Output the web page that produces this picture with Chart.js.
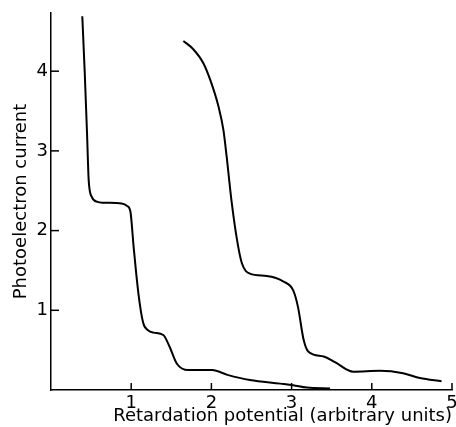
<!DOCTYPE html>
<html>
<head>
<meta charset="utf-8">
<script src="https://cdn.jsdelivr.net/npm/chart.js@4"></script>
<style>
  html, body { margin: 0; padding: 0; background: #fff; }
  canvas { display: block; }
</style>
</head>
<body>
<canvas id="myChart" width="456" height="427"></canvas>
<script>
// curva de la izquierda
const curva1X = [0.39, 0.42, 0.45, 0.47, 0.51, 0.58, 0.65, 0.88, 0.95, 0.99, 1.03, 1.09, 1.15, 1.21, 1.28, 1.40, 1.48, 1.57, 1.71, 2.01, 2.20, 2.48, 2.86, 3.02, 3.19, 3.48]
const curva1Y = [4.69, 4.00, 3.20, 2.63, 2.42, 2.36, 2.35, 2.34, 2.31, 2.24, 1.80, 1.21, 0.84, 0.75, 0.72, 0.69, 0.54, 0.33, 0.25, 0.25, 0.19, 0.125, 0.08, 0.06, 0.03, 0.02]

// curva de la derecha
const curva2X = [1.65, 1.77, 1.90, 2.00, 2.09, 2.15, 2.19, 2.25, 2.32, 2.38, 2.48, 2.69, 2.90, 3.02, 3.08, 3.15, 3.21, 3.40, 3.54, 3.77, 4.10, 4.39, 4.60, 4.87]
const curva2Y = [4.38, 4.28, 4.10, 3.85, 3.55, 3.26, 2.93, 2.38, 1.88, 1.59, 1.46, 1.43, 1.36, 1.25, 1.04, 0.63, 0.48, 0.42, 0.35, 0.23, 0.24, 0.21, 0.15, 0.11]

const ticksX = [1, 2, 3, 4, 5]
const ticksY = [1, 2, 3, 4]

const fuente = "'DejaVu Sans', sans-serif"

function puntos(xs, ys) {
    return xs.map((x, i) => ({ x: x, y: ys[i] }))
}

// marcas de los ejes hacia adentro
const marcasInternas = {
    id: "marcasInternas",
    afterDatasetsDraw(chart) {
        const ctx = chart.ctx
        const { x, y } = chart.scales
        ctx.save()
        ctx.strokeStyle = "#000"
        ctx.lineWidth = 1.5
        ticksX.forEach((v) => {
            const px = x.getPixelForValue(v)
            ctx.beginPath()
            ctx.moveTo(px, y.bottom)
            ctx.lineTo(px, y.bottom - 7)
            ctx.stroke()
        })
        ticksY.forEach((v) => {
            const py = y.getPixelForValue(v)
            ctx.beginPath()
            ctx.moveTo(x.left, py)
            ctx.lineTo(x.left + 8, py)
            ctx.stroke()
        })
        ctx.restore()
    }
}

const estiloLinea = {
    borderColor: "#000",
    borderWidth: 2,
    pointRadius: 0,
    fill: false,
    showLine: true,
    cubicInterpolationMode: "monotone"
}

const config = {
    type: "scatter",
    data: {
        datasets: [
            { ...estiloLinea, data: puntos(curva1X, curva1Y) },
            { ...estiloLinea, data: puntos(curva2X, curva2Y) }
        ]
    },
    options: {
        responsive: false,
        animation: false,
        layout: { padding: { left: 11, right: 4, top: 13, bottom: 0 } },
        plugins: { legend: { display: false }, tooltip: { enabled: false } },
        scales: {
            x: {
                type: "linear",
                min: 0,
                max: 5,
                afterBuildTicks: (s) => { s.ticks = ticksX.map((v) => ({ value: v })) },
                afterFit: (s) => { s.height = 37; s.paddingLeft = 0; s.paddingRight = 0 },
                border: { color: "#000", width: 1.5 },
                grid: { display: false, drawTicks: false },
                ticks: { color: "#000", font: { family: fuente, size: 18 }, padding: 3, maxRotation: 0 },
                title: {
                    display: true,
                    text: "Retardation potential (arbitrary units)",
                    align: "end",
                    color: "#000",
                    font: { family: fuente, size: 18 },
                    padding: { top: 0, bottom: 0 }
                }
            },
            y: {
                type: "linear",
                min: 0,
                max: 4.73,
                afterBuildTicks: (s) => { s.ticks = ticksY.map((v) => ({ value: v })) },
                afterFit: (s) => { s.width = 40; s.paddingTop = 0; s.paddingBottom = 0 },
                border: { color: "#000", width: 1.5 },
                grid: { display: false, drawTicks: false },
                ticks: { color: "#000", font: { family: fuente, size: 18 }, padding: 3 },
                title: {
                    display: true,
                    text: "Photoelectron current",
                    color: "#000",
                    font: { family: fuente, size: 18 },
                    padding: { top: 0, bottom: 0 }
                }
            }
        }
    },
    plugins: [marcasInternas]
}

new Chart(document.getElementById("myChart"), config)
</script>
</body>
</html>
